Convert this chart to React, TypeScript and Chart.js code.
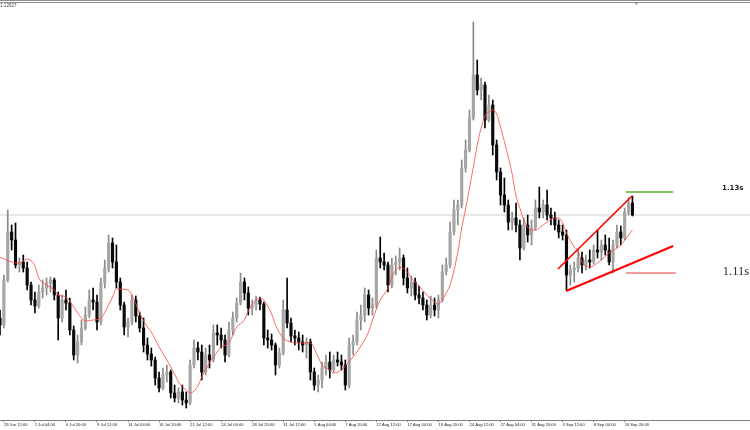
import React, { useEffect, useRef } from "react";
import { Chart, registerables } from "chart.js";

Chart.register(...registerables);

// ---- Candle data (EURUSD, aggregated candles) ----
const opens = [
  1.09825, 1.09650, 1.10775, 1.11975, 1.11775, 1.11150, 1.11225, 1.11075, 1.10650, 1.10275,
  1.10125, 1.10475, 1.10575, 1.10700, 1.10775, 1.10400, 1.09825, 1.10275, 1.10200, 1.09525,
  1.08900, 1.09225, 1.09575, 1.09900, 1.10275, 1.10225, 1.09725, 1.10700, 1.11075, 1.11700,
  1.11225, 1.10725, 1.10150, 1.09600, 1.09725, 1.10275, 1.09875, 1.09575, 1.09150, 1.08925,
  1.08775, 1.08325, 1.08075, 1.08400, 1.08475, 1.07950, 1.07825, 1.07975, 1.07775, 1.07700,
  1.08650, 1.09075, 1.08975, 1.08475, 1.08900, 1.08775, 1.09450, 1.09400, 1.09275, 1.08900,
  1.09525, 1.09825, 1.10200, 1.10725, 1.10450, 1.10075, 1.10150, 1.10275, 1.10175, 1.09325,
  1.09275, 1.09150, 1.08650, 1.08950, 1.10025, 1.09700, 1.09375, 1.09325, 1.09225, 1.09150,
  1.09225, 1.08475, 1.08150, 1.08275, 1.08575, 1.08725, 1.08525, 1.08775, 1.08725, 1.08650,
  1.08150, 1.09150, 1.09225, 1.09775, 1.09900, 1.10400, 1.10075, 1.10150, 1.11325, 1.11225,
  1.11150, 1.10650, 1.11150, 1.11225, 1.11325, 1.10825, 1.10575, 1.10725, 1.10400, 1.10325,
  1.10150, 1.09900, 1.10150, 1.10025, 1.10275, 1.10975, 1.11150, 1.11975, 1.12525, 1.12650,
  1.13575, 1.14025, 1.14825, 1.15900, 1.15525, 1.15650, 1.14775, 1.15150, 1.14150, 1.13475,
  1.12900, 1.12650, 1.12225, 1.12325, 1.12150, 1.11575, 1.12150, 1.11900, 1.12075, 1.12575,
  1.12475, 1.12650, 1.12400, 1.12325, 1.12150, 1.11975, 1.11900, 1.10900, 1.11025, 1.11075,
  1.11325, 1.11150, 1.11275, 1.11225, 1.11525, 1.11475, 1.11650, 1.11525, 1.11225, 1.11650,
  1.11975, 1.11825, 1.12475, 1.12700,
];

const highs = [
  1.10025, 1.10900, 1.12525, 1.12150, 1.12200, 1.11325, 1.11400, 1.11225, 1.10725, 1.10475,
  1.10650, 1.10775, 1.10825, 1.10850, 1.10825, 1.10475, 1.10400, 1.10525, 1.10325, 1.09625,
  1.09400, 1.09775, 1.10100, 1.10525, 1.10575, 1.10400, 1.10825, 1.11275, 1.11900, 1.11825,
  1.11650, 1.10825, 1.10225, 1.09825, 1.10400, 1.10375, 1.09975, 1.09825, 1.09325, 1.09075,
  1.08850, 1.08475, 1.08575, 1.08650, 1.08525, 1.08150, 1.08075, 1.08150, 1.07975, 1.08775,
  1.09275, 1.09225, 1.09150, 1.09075, 1.09150, 1.09650, 1.09650, 1.09575, 1.09400, 1.09725,
  1.09975, 1.10325, 1.10950, 1.10825, 1.10600, 1.10275, 1.10375, 1.10350, 1.10225, 1.09525,
  1.09425, 1.09200, 1.09075, 1.10275, 1.10825, 1.09825, 1.09525, 1.09475, 1.09400, 1.09325,
  1.09300, 1.08575, 1.08400, 1.08725, 1.08900, 1.08975, 1.08900, 1.08975, 1.08900, 1.08775,
  1.09325, 1.09400, 1.09975, 1.10150, 1.10575, 1.10525, 1.10325, 1.11525, 1.11850, 1.11450,
  1.11225, 1.11325, 1.11375, 1.11575, 1.11400, 1.11075, 1.10875, 1.10825, 1.10625, 1.10475,
  1.10275, 1.10375, 1.10325, 1.10400, 1.11150, 1.11325, 1.12225, 1.12775, 1.12775, 1.13775,
  1.14275, 1.15025, 1.17225, 1.16275, 1.15825, 1.15725, 1.15400, 1.15275, 1.14275, 1.13575,
  1.13325, 1.12775, 1.12475, 1.12700, 1.12275, 1.12325, 1.12400, 1.12275, 1.12775, 1.13100,
  1.12775, 1.13025, 1.12575, 1.12475, 1.12275, 1.12150, 1.12025, 1.11150, 1.11225, 1.11525,
  1.11475, 1.11400, 1.11525, 1.11650, 1.12025, 1.11775, 1.11900, 1.11825, 1.11775, 1.12150,
  1.12125, 1.12575, 1.12825, 1.12875,
];

const lows = [
  1.09400, 1.09575, 1.10725, 1.11525, 1.11075, 1.10975, 1.10975, 1.10525, 1.10150, 1.09950,
  1.10075, 1.10325, 1.10400, 1.10475, 1.10275, 1.09275, 1.09725, 1.10025, 1.09400, 1.08775,
  1.08700, 1.09150, 1.09525, 1.09825, 1.10025, 1.09525, 1.09650, 1.10575, 1.10975, 1.11075,
  1.10575, 1.10025, 1.09400, 1.09350, 1.09650, 1.09725, 1.09475, 1.08975, 1.08775, 1.08625,
  1.08150, 1.07975, 1.08025, 1.08225, 1.07825, 1.07725, 1.07700, 1.07650, 1.07575, 1.07650,
  1.08575, 1.08775, 1.08275, 1.08400, 1.08575, 1.08725, 1.09150, 1.09075, 1.08725, 1.08850,
  1.09400, 1.09725, 1.10150, 1.10275, 1.09900, 1.09900, 1.10025, 1.10025, 1.09150, 1.09075,
  1.09025, 1.08400, 1.08575, 1.08900, 1.09575, 1.09225, 1.09150, 1.09025, 1.08975, 1.08825,
  1.08275, 1.08025, 1.07975, 1.08075, 1.08400, 1.08325, 1.08475, 1.08625, 1.08525, 1.08025,
  1.08075, 1.08900, 1.09150, 1.09525, 1.09725, 1.09900, 1.09900, 1.10075, 1.11075, 1.11025,
  1.10475, 1.10575, 1.10900, 1.11025, 1.10650, 1.10450, 1.10375, 1.10275, 1.10175, 1.10025,
  1.09775, 1.09825, 1.09875, 1.09825, 1.10225, 1.10900, 1.11075, 1.11900, 1.12150, 1.12575,
  1.13475, 1.13975, 1.14775, 1.15400, 1.15275, 1.14575, 1.14725, 1.13900, 1.13275, 1.12650,
  1.12475, 1.12025, 1.12025, 1.11975, 1.11275, 1.11525, 1.11725, 1.11650, 1.12025, 1.12325,
  1.12325, 1.12275, 1.12150, 1.12025, 1.11825, 1.11775, 1.10525, 1.10650, 1.10725, 1.10975,
  1.10950, 1.11025, 1.11075, 1.11175, 1.11325, 1.11275, 1.11400, 1.11150, 1.10950, 1.11575,
  1.11650, 1.11775, 1.12400, 1.12375,
];

const closes = [
  1.09650, 1.10775, 1.11975, 1.11775, 1.11150, 1.11225, 1.11075, 1.10650, 1.10275, 1.10125,
  1.10475, 1.10575, 1.10700, 1.10775, 1.10400, 1.09825, 1.10275, 1.10200, 1.09525, 1.08900,
  1.09225, 1.09575, 1.09900, 1.10275, 1.10225, 1.09725, 1.10700, 1.11075, 1.11700, 1.11225,
  1.10725, 1.10150, 1.09600, 1.09725, 1.10275, 1.09875, 1.09575, 1.09150, 1.08925, 1.08775,
  1.08325, 1.08075, 1.08400, 1.08475, 1.07950, 1.07825, 1.07975, 1.07775, 1.07700, 1.08650,
  1.09075, 1.08975, 1.08475, 1.08900, 1.08775, 1.09450, 1.09400, 1.09275, 1.08900, 1.09525,
  1.09825, 1.10200, 1.10725, 1.10450, 1.10075, 1.10150, 1.10275, 1.10175, 1.09325, 1.09275,
  1.09150, 1.08650, 1.08950, 1.10025, 1.09700, 1.09375, 1.09325, 1.09225, 1.09150, 1.09225,
  1.08475, 1.08150, 1.08275, 1.08575, 1.08725, 1.08525, 1.08775, 1.08725, 1.08650, 1.08150,
  1.09150, 1.09225, 1.09775, 1.09900, 1.10400, 1.10075, 1.10150, 1.11325, 1.11225, 1.11150,
  1.10650, 1.11150, 1.11225, 1.11325, 1.10825, 1.10575, 1.10725, 1.10400, 1.10325, 1.10150,
  1.09900, 1.10150, 1.10025, 1.10275, 1.10975, 1.11150, 1.11975, 1.12525, 1.12650, 1.13575,
  1.14025, 1.14825, 1.15900, 1.15525, 1.15650, 1.14775, 1.15150, 1.14150, 1.13475, 1.12900,
  1.12650, 1.12225, 1.12325, 1.12150, 1.11575, 1.12150, 1.11900, 1.12075, 1.12575, 1.12475,
  1.12650, 1.12400, 1.12325, 1.12150, 1.11975, 1.11900, 1.10900, 1.11025, 1.11075, 1.11325,
  1.11150, 1.11275, 1.11225, 1.11525, 1.11475, 1.11650, 1.11525, 1.11225, 1.11650, 1.11975,
  1.11825, 1.12475, 1.12700, 1.12400,
];

// ---- Moving average ----
const maBars = [
  0, 3, 5, 7, 9, 10, 12, 14, 15, 17,
  19, 21, 22, 24, 26, 28, 29, 30, 33, 34,
  36, 38, 39, 41, 43, 45, 46, 48, 49, 51,
  52, 54, 56, 57, 59, 61, 63, 64, 67, 68,
  70, 71, 73, 75, 77, 80, 82, 83, 85, 86,
  88, 89, 91, 93, 95, 96, 98, 100, 101, 103,
  105, 106, 108, 110, 112, 113, 114, 115, 116, 118,
  119, 120, 122, 123, 124, 125, 126, 127, 128, 129,
  131, 132, 133, 134, 135, 137, 138, 139, 141, 143,
  144, 145, 146, 148, 149, 150, 152, 154, 155, 157,
  159, 160, 162, 163,
];
const maValues = [
  1.11350, 1.11225, 1.11200, 1.11300, 1.11125, 1.10825, 1.10650, 1.10525, 1.10400, 1.10350,
  1.10100, 1.09825, 1.09750, 1.09775, 1.09825, 1.10150, 1.10350, 1.10550, 1.10525, 1.10400,
  1.09950, 1.09600, 1.09475, 1.09100, 1.08775, 1.08425, 1.08225, 1.08025, 1.07950, 1.08125,
  1.08350, 1.08700, 1.08975, 1.09100, 1.09200, 1.09600, 1.09775, 1.10000, 1.10325, 1.10275,
  1.09925, 1.09650, 1.09325, 1.09225, 1.09200, 1.09200, 1.08850, 1.08650, 1.08525, 1.08450,
  1.08525, 1.08625, 1.08850, 1.09125, 1.09475, 1.09775, 1.10275, 1.10575, 1.10850, 1.11100,
  1.10975, 1.10825, 1.10625, 1.10400, 1.10225, 1.10175, 1.10275, 1.10450, 1.10650, 1.11475,
  1.12075, 1.12550, 1.13600, 1.14150, 1.14575, 1.14875, 1.14975, 1.15025, 1.14925, 1.14600,
  1.13850, 1.13425, 1.12875, 1.12575, 1.12275, 1.12025, 1.12025, 1.12075, 1.12225, 1.12325,
  1.12325, 1.12200, 1.11950, 1.11600, 1.11500, 1.11225, 1.11100, 1.11200, 1.11275, 1.11450,
  1.11575, 1.11650, 1.11900, 1.12025,
];

// ---- Time axis ----
const tickBars = [1, 9, 17, 25, 33, 41, 49, 57, 65, 73, 81, 89, 97, 105, 113, 121, 129, 137, 145, 153, 161];
const tickLabels = [
  "29 Jun 12:00", "2 Jul 04:00", "6 Jul 20:00", "9 Jul 12:00", "14 Jul 04:00", "16 Jul 20:00",
  "21 Jul 12:00", "24 Jul 04:00", "28 Jul 20:00", "31 Jul 12:00", "5 Aug 04:00", "7 Aug 20:00",
  "12 Aug 12:00", "17 Aug 04:00", "19 Aug 20:00", "24 Aug 12:00", "27 Aug 04:00", "31 Aug 20:00",
  "3 Sep 12:00", "8 Sep 04:00", "10 Sep 20:00",
];

// ---- Drawn objects ----
const bidPrice = 1.124;
const upperChannelBars = [143.8, 162.9];
const upperChannelPrices = [1.1105, 1.12875];
const lowerTrendBars = [145.9, 173.5];
const lowerTrendPrices = [1.105, 1.11625];
const greenLevelBars = [161.3, 173.5];
const greenLevelPrice = 1.12975;
const redLevelBars = [161.3, 174.2];
const redLevelPrice = 1.1095;
const noteTexts = ["1.13s", "1.11s"];
const noteBars = [186.1, 186.3];
const notePrices = [1.13075, 1.10975];
const headerText = "1.12627";

const X_MIN = 0;
const X_MAX = 193.3;
const Y_MIN = 1.07275;
const Y_MAX = 1.17775;

const isBull = (i: number) => closes[i] >= opens[i];

export default function App() {
  const ref = useRef<HTMLCanvasElement>(null);

  useEffect(() => {
    document.body.style.margin = "0";
    const canvas = ref.current;
    if (!canvas) return;

    const idx = opens.map((_, i) => i);

    const decor = {
      id: "decor",
      beforeDraw(chart: any) {
        const ctx = chart.ctx;
        ctx.save();
        ctx.fillStyle = "#ffffff";
        ctx.fillRect(0, 0, chart.width, chart.height);
        ctx.restore();
      },
      afterDatasetsDraw(chart: any) {
        const ctx = chart.ctx;
        const x = chart.scales.x;
        const y = chart.scales.y;
        ctx.save();
        // top frame
        ctx.fillStyle = "#8e8e8e";
        ctx.fillRect(0, 0, chart.width, 1);
        ctx.fillRect(0, 2, chart.width, 1);
        // shift marker
        const mx = x.getPixelForValue(opens.length);
        ctx.fillStyle = "#999999";
        ctx.beginPath();
        ctx.moveTo(mx - 2, 2.5);
        ctx.lineTo(mx + 2, 2.5);
        ctx.lineTo(mx, 5);
        ctx.closePath();
        ctx.fill();
        // header value
        ctx.fillStyle = "#444444";
        ctx.font = '4.6px "Liberation Sans"';
        ctx.textAlign = "left";
        ctx.textBaseline = "middle";
        ctx.fillText(headerText, chart.chartArea.left, 5.5);
        // text notes
        const fonts = ['bold 7px "DejaVu Sans"', '12.5px "Liberation Serif"'];
        const colors = ["#222222", "#2a2a2a"];
        noteTexts.forEach((t, k) => {
          ctx.font = fonts[k];
          ctx.fillStyle = colors[k];
          ctx.fillText(t, x.getPixelForValue(noteBars[k]), y.getPixelForValue(notePrices[k]));
        });
        ctx.restore();
      },
    };

    const chart = new Chart(canvas, {
      type: "bar",
      data: {
        datasets: [
          {
            type: "line",
            label: "bid",
            data: [
              { x: X_MIN, y: bidPrice },
              { x: X_MAX, y: bidPrice },
            ],
            borderColor: "#cfcfcf",
            borderWidth: 1,
            pointRadius: 0,
            order: 9,
          } as any,
          {
            type: "bar",
            label: "wicks",
            data: idx.map((i) => ({ x: i, y: [lows[i], highs[i]] })),
            backgroundColor: idx.map((i) => (isBull(i) ? "#8a8a8a" : "#000000")),
            barThickness: 1,
            grouped: false,
            minBarLength: 1,
            order: 8,
          } as any,
          {
            type: "bar",
            label: "bodies",
            data: idx.map((i) => ({ x: i, y: [opens[i], closes[i]] })),
            backgroundColor: idx.map((i) => (isBull(i) ? "#a6a6a6" : "#0a0a0a")),
            borderWidth: 0,
            barThickness: 2.5,
            grouped: false,
            minBarLength: 1,
            order: 7,
          } as any,
          {
            type: "line",
            label: "ma",
            data: maBars.map((b, k) => ({ x: b, y: maValues[k] })),
            borderColor: "rgba(255,70,70,0.8)",
            borderWidth: 1,
            pointRadius: 0,
            cubicInterpolationMode: "monotone",
            order: 5,
          } as any,
          {
            type: "line",
            label: "upperChannel",
            data: upperChannelBars.map((b, k) => ({ x: b, y: upperChannelPrices[k] })),
            borderColor: "#ff0000",
            borderWidth: 1.6,
            pointRadius: 0,
            order: 2,
          } as any,
          {
            type: "line",
            label: "lowerTrend",
            data: lowerTrendBars.map((b, k) => ({ x: b, y: lowerTrendPrices[k] })),
            borderColor: "#ff0000",
            borderWidth: 2,
            pointRadius: 0,
            order: 2,
          } as any,
          {
            type: "line",
            label: "greenLevel",
            data: greenLevelBars.map((b) => ({ x: b, y: greenLevelPrice })),
            borderColor: "#5fae2e",
            borderWidth: 1.3,
            pointRadius: 0,
            order: 2,
          } as any,
          {
            type: "line",
            label: "redLevel",
            data: redLevelBars.map((b) => ({ x: b, y: redLevelPrice })),
            borderColor: "#e83a3a",
            borderWidth: 1.2,
            pointRadius: 0,
            order: 2,
          } as any,
        ],
      },
      options: {
        responsive: false,
        maintainAspectRatio: false,
        animation: false,
        devicePixelRatio: 1,
        events: [],
        layout: { padding: 0 },
        plugins: {
          legend: { display: false },
          tooltip: { enabled: false },
          title: { display: false },
        },
        scales: {
          x: {
            type: "linear",
            min: X_MIN,
            max: X_MAX,
            offset: false,
            position: "bottom",
            grid: {
              display: true,
              drawOnChartArea: false,
              drawTicks: true,
              tickLength: 2,
              color: "#808080",
              offset: false,
            },
            border: { display: true, color: "#808080", width: 1 },
            afterBuildTicks: (axis: any) => {
              axis.ticks = tickBars.map((v) => ({ value: v }));
            },
            afterFit: (axis: any) => {
              axis.height = 10;
            },
            ticks: {
              autoSkip: false,
              maxRotation: 0,
              minRotation: 0,
              align: "start",
              padding: 0,
              color: "#222222",
              font: { family: "Liberation Sans", size: 4.1 },
              callback: (_v: any, i: number) => tickLabels[i],
            },
          },
          y: {
            type: "linear",
            display: false,
            min: Y_MIN,
            max: Y_MAX,
          },
        },
      } as any,
      plugins: [decor],
    });

    return () => chart.destroy();
  }, []);

  return (
    <div style={{ position: "absolute", left: 0, top: 0, width: 750, height: 430, background: "#fff" }}>
      <canvas ref={ref} width={750} height={430} style={{ display: "block", width: 750, height: 430 }} />
    </div>
  );
}
